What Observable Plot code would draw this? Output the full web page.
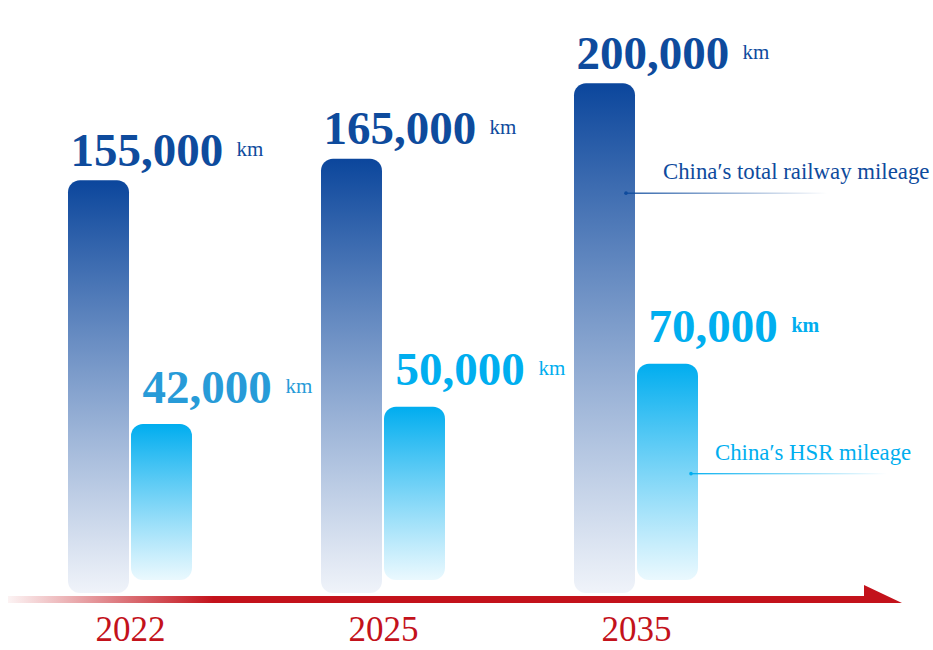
<!DOCTYPE html>
<html>
<head>
<meta charset="utf-8">
<script src="https://cdn.jsdelivr.net/npm/d3@7"></script>
<script src="https://cdn.jsdelivr.net/npm/@observablehq/plot@0.6"></script>
<style>
  html, body { margin: 0; padding: 0; background: #ffffff; overflow: hidden; }
</style>
</head>
<body>
<div id="chart"></div>
<script>
// ---- data ----
const years = ["2022", "2025", "2035"];
const totalMileage = [155000, 165000, 200000];
const hsrMileage = [42000, 50000, 70000];
const seriesLabels = ["China′s total railway mileage", "China′s HSR mileage"];
const unit = "km";

const data = years.map((year, i) => ({year, total: totalMileage[i], hsr: hsrMileage[i]}));

// ---- styling ----
const DARK = "#0e4b9d";
const LIGHT = "#00aeef";
const LIGHT_MUTED = "#279bd8";
const RED = "#c3121b";
const FONT = "'Liberation Serif', 'Times New Roman', serif";
const Y_BASE = -36300;
const fmt = d3.format(",");

function findScales(args) {
  return args.find(a => a && typeof a.x === "function" && typeof a.y === "function");
}
function findDims(args) {
  return args.find(a => a && typeof a.width === "number" && typeof a.height === "number");
}

// gradients + timeline arrow
function backdrop(...args) {
  const dims = findDims(args);
  const y0 = dims.height - dims.marginBottom;
  const g = d3.create("svg:g");
  const defs = g.append("defs");
  const vg = (id, top, bottom, bottomOpacity) => {
    const lg = defs.append("linearGradient").attr("id", id)
      .attr("x1", 0).attr("y1", 0).attr("x2", 0).attr("y2", 1);
    lg.append("stop").attr("offset", 0).attr("stop-color", top);
    lg.append("stop").attr("offset", 1).attr("stop-color", bottom).attr("stop-opacity", bottomOpacity);
  };
  vg("gradTotal", "#0b469c", "#eef2f9", 0.9);
  vg("gradHsr", "#00adef", "#e8f8fe", 0.9);
  const hg = (id, color) => {
    const lg = defs.append("linearGradient").attr("id", id)
      .attr("x1", 0).attr("y1", 0).attr("x2", 1).attr("y2", 0);
    lg.append("stop").attr("offset", 0).attr("stop-color", color);
    lg.append("stop").attr("offset", 1).attr("stop-color", color).attr("stop-opacity", 0);
  };
  hg("gradLineDark", DARK);
  hg("gradLineLight", LIGHT);
  const ag = defs.append("linearGradient").attr("id", "gradArrow")
    .attr("gradientUnits", "userSpaceOnUse")
    .attr("x1", 8).attr("y1", 0).attr("x2", 902).attr("y2", 0);
  ag.append("stop").attr("offset", 0).attr("stop-color", RED).attr("stop-opacity", 0.05);
  ag.append("stop").attr("offset", 0.23).attr("stop-color", RED).attr("stop-opacity", 1);
  ag.append("stop").attr("offset", 1).attr("stop-color", RED);

  const yb = y0 + 10;
  g.append("path")
    .attr("d", `M8,${yb - 7}H864V${yb - 18}L902,${yb}H8Z`)
    .attr("fill", "url(#gradArrow)");
  return g.node();
}

// series annotations attached to the last group
function annotations(...args) {
  const {x, y} = findScales(args);
  const d = data[data.length - 1];
  const bw = x.bandwidth ? x.bandwidth() : 0;
  const cx = x(d.year) + bw / 2;
  const g = d3.create("svg:g").style("font-family", FONT).attr("text-anchor", "start");
  const items = [
    {top: y(d.total), dotX: cx - 10, endX: cx + 191, textX: cx + 27, color: DARK, grad: "gradLineDark", label: seriesLabels[0]},
    {top: y(d.hsr), dotX: cx + 55, endX: cx + 251, textX: cx + 79, color: LIGHT, grad: "gradLineLight", label: seriesLabels[1]}
  ];
  for (const it of items) {
    g.append("rect")
      .attr("x", it.dotX).attr("y", it.top + 109.4)
      .attr("width", it.endX - it.dotX).attr("height", 1.3)
      .attr("fill", `url(#${it.grad})`);
    g.append("circle").attr("cx", it.dotX).attr("cy", it.top + 110).attr("r", 1.8).attr("fill", it.color);
    g.append("text")
      .attr("x", it.textX).attr("y", it.top + 96)
      .attr("text-anchor", "start")
      .style("font-family", FONT)
      .style("font-size", "22.8px")
      .attr("fill", it.color)
      .text(it.label);
  }
  return g.node();
}

const chart = Plot.plot({
  width: 933,
  height: 650,
  marginTop: 40,
  marginBottom: 57,
  marginLeft: 67,
  marginRight: 235,
  style: {fontFamily: FONT, background: "#ffffff", overflow: "visible"},
  x: {type: "band", domain: years, paddingInner: 0.511, paddingOuter: 0, axis: null},
  y: {domain: [Y_BASE, 220000], axis: null},
  marks: [
    backdrop,
    Plot.barY(data, {x: "year", y1: () => Y_BASE, y2: "total", insetRight: 63, rx: 12, fill: "url(#gradTotal)"}),
    Plot.barY(data, {x: "year", y1: () => Y_BASE, y2: "hsr", insetLeft: 63, insetBottom: 13, rx: 12, fill: "url(#gradHsr)"}),
    // total railway values
    Plot.text(data, {x: "year", y: "total", text: d => fmt(d.total), textAnchor: "start", lineAnchor: "bottom",
      dx: -60, dy: -15, fontSize: 47, fontWeight: "bold", fill: DARK}),
    Plot.text(data, {x: "year", y: "total", text: () => unit, textAnchor: "start", lineAnchor: "bottom",
      dx: 106, dy: -25, fontSize: 21, fill: DARK}),
    // HSR values
    Plot.text(data, {x: "year", y: "hsr", text: d => fmt(d.hsr), textAnchor: "start", lineAnchor: "bottom",
      dx: 12, dy: -22, fontSize: 47, fontWeight: "bold", fill: d => d.year === years[0] ? LIGHT_MUTED : LIGHT}),
    Plot.text(data, {filter: d => d.year !== years[years.length - 1], x: "year", y: "hsr", text: () => unit,
      textAnchor: "start", lineAnchor: "bottom", dx: 155, dy: -32, fontSize: 21,
      fill: d => d.year === years[0] ? LIGHT_MUTED : LIGHT}),
    Plot.text(data, {filter: d => d.year === years[years.length - 1], x: "year", y: "hsr", text: () => unit,
      textAnchor: "start", lineAnchor: "bottom", dx: 155, dy: -32, fontSize: 20, fontWeight: "bold", fill: LIGHT}),
    // year labels
    Plot.text(years, {x: d => d, frameAnchor: "bottom", lineAnchor: "top", dy: 23, fontSize: 35, fill: RED}),
    annotations
  ]
});

document.getElementById("chart").appendChild(chart);
</script>
</body>
</html>
